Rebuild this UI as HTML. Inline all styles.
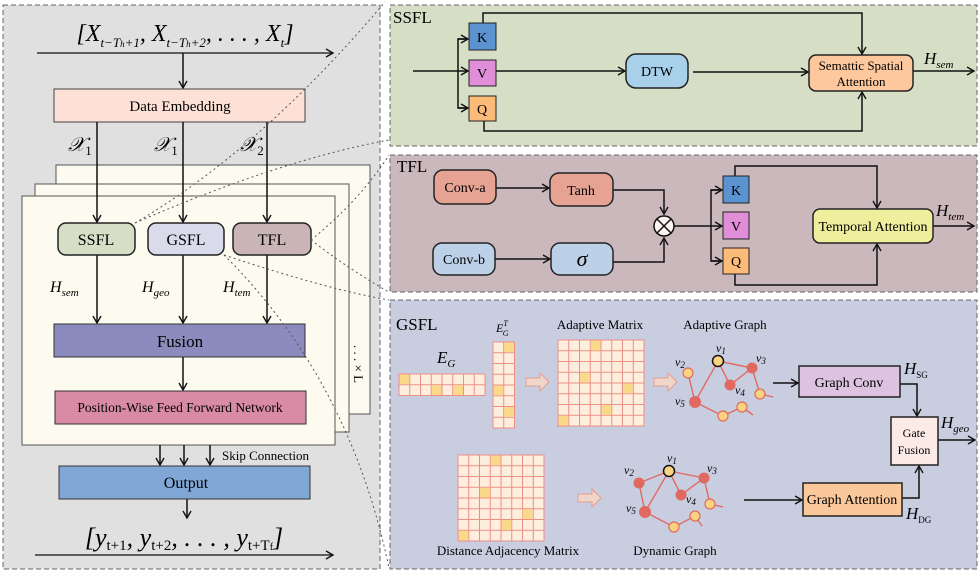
<!DOCTYPE html>
<html><head><meta charset="utf-8"><style>
html,body{margin:0;padding:0;background:#fff}
svg{display:block;font-family:"Liberation Serif",serif}
</style></head><body>
<svg width="979" height="571" viewBox="0 0 979 571" xmlns="http://www.w3.org/2000/svg">
<defs>
<marker id="a" markerWidth="10" markerHeight="10" refX="8" refY="5" orient="auto" markerUnits="userSpaceOnUse"><path d="M1,1 L8,5 L1,9" fill="none" stroke="#111" stroke-width="1.4"/></marker>
<pattern id="p1" x="399" y="374" width="10.75" height="10.75" patternUnits="userSpaceOnUse"><rect width="10.75" height="10.75" fill="#fdeedd" stroke="#ec9088" stroke-width="1"/></pattern>
<pattern id="p2" x="493" y="342" width="10.75" height="10.75" patternUnits="userSpaceOnUse"><rect width="10.75" height="10.75" fill="#fdeedd" stroke="#ec9088" stroke-width="1"/></pattern>
<pattern id="p3" x="558" y="340" width="10.75" height="10.75" patternUnits="userSpaceOnUse"><rect width="10.75" height="10.75" fill="#fdeedd" stroke="#ec9088" stroke-width="1"/></pattern>
<pattern id="p4" x="458" y="455" width="10.75" height="10.75" patternUnits="userSpaceOnUse"><rect width="10.75" height="10.75" fill="#fdeedd" stroke="#ec9088" stroke-width="1"/></pattern>
</defs>
<!-- LEFT -->
<rect x="3" y="5" width="377" height="564" fill="#e0e0e0" stroke="#666" stroke-dasharray="5,3"/>
<text x="185" y="41" font-size="24" font-style="italic" text-anchor="middle">[X<tspan font-size="13" dy="6">t−T<tspan font-size="9">h</tspan>+1</tspan><tspan dy="-6">, X</tspan><tspan font-size="13" dy="6">t−T<tspan font-size="9">h</tspan>+2</tspan><tspan dy="-6">, . . . , X</tspan><tspan font-size="13" dy="6">t</tspan><tspan dy="-6">]</tspan></text>
<line x1="37" y1="53" x2="333" y2="53" stroke="#111" stroke-width="1.2" marker-end="url(#a)"/>
<line x1="183" y1="53" x2="183" y2="88" stroke="#111" stroke-width="1.5" marker-end="url(#a)"/>
<rect x="54" y="89" width="251" height="33" fill="#fde0d6" stroke="#444"/>
<text x="180" y="111" font-size="15" text-anchor="middle">Data Embedding</text>
<g font-size="20" font-style="italic"><text x="68" y="151">𝒳<tspan font-size="13" font-style="normal" dy="4">1</tspan></text><text x="154" y="151">𝒳<tspan font-size="13" font-style="normal" dy="4">1</tspan></text><text x="240" y="151">𝒳<tspan font-size="13" font-style="normal" dy="4">2</tspan></text></g>
<rect x="56" y="165" width="314" height="249" fill="#fdfaf0" stroke="#555"/>
<rect x="35" y="184" width="314" height="248" fill="#fdfaf0" stroke="#555"/>
<rect x="22" y="196" width="313" height="249" fill="#fdfaf0" stroke="#555"/>
<g stroke="#111" stroke-width="1.5" marker-end="url(#a)"><line x1="97" y1="122" x2="97" y2="222"/><line x1="183" y1="122" x2="183" y2="222"/><line x1="267" y1="122" x2="267" y2="222"/>
<line x1="97" y1="255" x2="97" y2="323"/><line x1="183" y1="255" x2="183" y2="323"/><line x1="267" y1="255" x2="267" y2="323"/>
<line x1="183" y1="357" x2="183" y2="390"/><line x1="160" y1="445" x2="160" y2="465"/><line x1="184" y1="445" x2="184" y2="465"/><line x1="210" y1="445" x2="210" y2="465"/><line x1="187" y1="499" x2="187" y2="518"/></g>
<rect x="58" y="223" width="77" height="32" rx="8" fill="#d6dfc6" stroke="#222" stroke-width="1.5"/>
<rect x="148" y="223" width="76" height="32" rx="8" fill="#dadbea" stroke="#222" stroke-width="1.5"/>
<rect x="233" y="223" width="78" height="32" rx="8" fill="#c9b4b6" stroke="#222" stroke-width="1.5"/>
<g font-size="16" text-anchor="middle"><text x="96" y="245">SSFL</text><text x="186" y="245">GSFL</text><text x="272" y="245">TFL</text></g>
<g font-size="16" font-style="italic"><text x="50" y="292">H<tspan font-size="11" dy="4">sem</tspan></text><text x="142" y="292">H<tspan font-size="11" dy="4">geo</tspan></text><text x="223" y="292">H<tspan font-size="11" dy="4">tem</tspan></text></g>
<rect x="54" y="324" width="251" height="33" fill="#8b8bbd" stroke="#333"/>
<text x="180" y="347" font-size="17" text-anchor="middle">Fusion</text>
<rect x="55" y="391" width="251" height="33" fill="#d98aa4" stroke="#333"/>
<text x="180" y="412" font-size="13.5" text-anchor="middle">Position-Wise Feed Forward Network</text>
<text x="222" y="460" font-size="13">Skip Connection</text>
<rect x="59" y="466" width="251" height="33" fill="#80a6d6" stroke="#333"/>
<text x="186" y="488" font-size="16" text-anchor="middle">Output</text>
<text x="184" y="546" font-size="26" font-style="italic" text-anchor="middle">[y<tspan font-size="15" font-style="normal" dy="4">t+1</tspan><tspan dy="-4">, y</tspan><tspan font-size="15" font-style="normal" dy="4">t+2</tspan><tspan dy="-4">, . . . , y</tspan><tspan font-size="15" font-style="normal" dy="4">t+T<tspan font-size="10">f</tspan></tspan><tspan dy="-4">]</tspan></text>
<line x1="35" y1="555" x2="333" y2="555" stroke="#111" stroke-width="1.2" marker-end="url(#a)"/>
<text x="0" y="0" font-size="13" transform="translate(354,345) rotate(90)">. . . × L</text>
<g stroke="#555" stroke-dasharray="2,3" fill="none" stroke-width="1">
<path d="M135,223 Q260,150 385,2"/><path d="M135,223 Q280,160 389,140"/>
<path d="M311,240 Q360,200 389,155"/><path d="M311,240 Q350,270 389,292"/>
<path d="M224,255 Q330,290 389,300"/><path d="M224,255 Q350,380 389,568"/>
</g>
<!-- SSFL -->
<rect x="390" y="5" width="587" height="141" fill="#d6dec5" stroke="#666" stroke-dasharray="5,3"/>
<text x="393" y="23" font-size="17">SSFL</text>
<g stroke="#111" stroke-width="1.5" fill="none">
<line x1="413" y1="71" x2="468" y2="71" marker-end="url(#a)"/>
<polyline points="468,39 458,39 458,108 468,108"/>
<line x1="458" y1="108" x2="468" y2="108" marker-end="url(#a)"/><line x1="458" y1="39" x2="468" y2="39" marker-end="url(#a)"/>
<line x1="496" y1="71" x2="625" y2="71" marker-end="url(#a)"/>
<line x1="693" y1="72" x2="808" y2="72" marker-end="url(#a)"/>
<polyline points="483,23 483,13 862,13 862,54" marker-end="url(#a)"/>
<polyline points="484,121 484,131 862,131 862,92" marker-end="url(#a)"/>
<line x1="913" y1="71" x2="974" y2="71" marker-end="url(#a)"/>
</g>
<rect x="469" y="23" width="27" height="27" fill="#5b93d0" stroke="#222"/>
<rect x="469" y="60" width="27" height="26" fill="#e08ed8" stroke="#222"/>
<rect x="469" y="96" width="27" height="25" fill="#fdbb7a" stroke="#222"/>
<g font-size="14" text-anchor="middle"><text x="482" y="42">K</text><text x="482" y="78">V</text><text x="482" y="114">Q</text></g>
<rect x="626" y="54" width="62" height="34" rx="10" fill="#a8d0ea" stroke="#222" stroke-width="1.5"/>
<text x="657" y="76" font-size="14" text-anchor="middle">DTW</text>
<rect x="809" y="55" width="104" height="36" rx="7" fill="#fdc89d" stroke="#222" stroke-width="1.5"/>
<text x="861" y="70" font-size="13" text-anchor="middle">Semattic Spatial</text><text x="861" y="86" font-size="13" text-anchor="middle">Attention</text>
<text x="924" y="64" font-size="17" font-style="italic">H<tspan font-size="11" dy="4">sem</tspan></text>
<!-- TFL -->
<rect x="390" y="155" width="587" height="137" fill="#cab8bc" stroke="#666" stroke-dasharray="5,3"/>
<text x="397" y="172" font-size="17">TFL</text>
<g stroke="#111" stroke-width="1.5" fill="none">
<line x1="496" y1="188" x2="549" y2="188" marker-end="url(#a)"/>
<line x1="495" y1="259" x2="550" y2="259" marker-end="url(#a)"/>
<polyline points="613,190 664,190 664,214" marker-end="url(#a)"/>
<polyline points="613,262 664,262 664,238" marker-end="url(#a)"/>
<line x1="674" y1="226" x2="722" y2="226" marker-end="url(#a)"/>
<polyline points="722,190 711,190 711,261 722,261"/>
<line x1="711" y1="190" x2="722" y2="190" marker-end="url(#a)"/><line x1="711" y1="261" x2="722" y2="261" marker-end="url(#a)"/>
<polyline points="735,176 735,166 877,166 877,208" marker-end="url(#a)"/>
<polyline points="735,274 735,285 877,285 877,244" marker-end="url(#a)"/>
<line x1="933" y1="226" x2="974" y2="226" marker-end="url(#a)"/>
</g>
<rect x="434" y="170" width="62" height="34" rx="9" fill="#e6a393" stroke="#222" stroke-width="1.5"/>
<rect x="550" y="173" width="63" height="33" rx="9" fill="#e6a393" stroke="#222" stroke-width="1.5"/>
<rect x="433" y="243" width="62" height="32" rx="9" fill="#bcd0e8" stroke="#222" stroke-width="1.5"/>
<rect x="551" y="243" width="62" height="32" rx="9" fill="#bcd0e8" stroke="#222" stroke-width="1.5"/>
<g font-size="14" text-anchor="middle"><text x="465" y="192">Conv-a</text><text x="581" y="195">Tanh</text><text x="464" y="264">Conv-b</text></g>
<text x="582" y="266" font-size="22" font-style="italic" text-anchor="middle">σ</text>
<circle cx="664" cy="226" r="10" fill="#fdf5f0" stroke="#111" stroke-width="1.5"/>
<path d="M657,219 L671,233 M671,219 L657,233" stroke="#111" stroke-width="1.5"/>
<rect x="723" y="176" width="26" height="27" fill="#5b93d0" stroke="#222"/>
<rect x="723" y="212" width="26" height="27" fill="#e08ed8" stroke="#222"/>
<rect x="723" y="248" width="26" height="26" fill="#fdbb7a" stroke="#222"/>
<g font-size="14" text-anchor="middle"><text x="736" y="195">K</text><text x="736" y="231">V</text><text x="736" y="266">Q</text></g>
<rect x="813" y="209" width="120" height="34" rx="7" fill="#eeee9c" stroke="#222" stroke-width="1.5"/>
<text x="873" y="231" font-size="14" text-anchor="middle">Temporal  Attention</text>
<text x="936" y="216" font-size="17" font-style="italic">H<tspan font-size="11" dy="4">tem</tspan></text>
<!-- GSFL -->
<rect x="390" y="300" width="587" height="269" fill="#c9cde0" stroke="#666" stroke-dasharray="5,3"/>
<text x="396" y="330" font-size="17">GSFL</text>
<text x="437" y="363" font-size="17" font-style="italic">E<tspan font-size="11" dy="4">G</tspan></text>
<text x="496" y="332" font-size="12" font-style="italic">E<tspan font-size="8" dy="-6">T</tspan><tspan font-size="8" dx="-5" dy="10">G</tspan></text>
<rect x="399" y="374" width="86" height="21.5" fill="url(#p1)" stroke="#ec9088"/>
<rect x="493" y="342" width="21.5" height="86" fill="url(#p2)" stroke="#ec9088"/>
<rect x="558" y="340" width="86" height="86" fill="url(#p3)" stroke="#ec9088"/>
<rect x="458" y="455" width="86" height="86" fill="url(#p4)" stroke="#ec9088"/>
<g fill="#fbd98a">
<rect x="399.5" y="374.5" width="9.75" height="9.75"/><rect x="453.25" y="385.25" width="9.75" height="9.75"/><rect x="431.75" y="385.25" width="9.75" height="9.75"/>
<rect x="504.25" y="342.5" width="9.75" height="9.75"/><rect x="493.5" y="385.5" width="9.75" height="9.75"/><rect x="504.25" y="407" width="9.75" height="9.75"/>
<rect x="590.75" y="340.5" width="9.75" height="9.75"/><rect x="580" y="372.75" width="9.75" height="9.75"/><rect x="623" y="383.5" width="9.75" height="9.75"/><rect x="601.5" y="405" width="9.75" height="9.75"/><rect x="558.5" y="415.75" width="9.75" height="9.75"/>
<rect x="490.75" y="455.5" width="9.75" height="9.75"/><rect x="480" y="487.75" width="9.75" height="9.75"/><rect x="522.5" y="509.25" width="9.75" height="9.75"/><rect x="501.5" y="520" width="9.75" height="9.75"/><rect x="458.5" y="530.75" width="9.75" height="9.75"/>
</g>
<g font-size="13" text-anchor="middle"><text x="600" y="329">Adaptive Matrix</text><text x="725" y="329">Adaptive Graph</text><text x="508" y="555">Distance Adjacency Matrix</text><text x="675" y="555">Dynamic  Graph</text></g>
<g fill="#f0d6c8" stroke="#e0a090"><path d="M526,378 h14 v-5 l9,9 l-9,9 v-5 h-14z"/><path d="M654,378 h14 v-5 l9,9 l-9,9 v-5 h-14z"/><path d="M578,494 h14 v-5 l9,9 l-9,9 v-5 h-14z"/></g>
<g stroke="#e06a62" stroke-width="1.4" fill="none">
<polyline points="688,373 695,402 718,361 752,368 730,385 718,361"/><polyline points="695,402 723,416 742,407 753,415"/><polyline points="752,368 760,394 773,397"/><line x1="718" y1="361" x2="752" y2="368"/>
<polyline points="639,483 669,471 645,512 674,527 695,516 702,526"/><polyline points="669,471 704,478 681,495 669,471"/><polyline points="704,478 710,504 723,507"/><line x1="639" y1="483" x2="645" y2="512"/>
</g>
<g fill="#fbd380" stroke="#e06a62" stroke-width="1.2"><circle cx="688" cy="373" r="5"/><circle cx="760" cy="394" r="5"/><circle cx="723" cy="416" r="5"/><circle cx="742" cy="407" r="5"/><circle cx="710" cy="504" r="5"/><circle cx="674" cy="527" r="5"/><circle cx="695" cy="516" r="5"/></g>
<g fill="#e06a62"><circle cx="695" cy="402" r="6"/><circle cx="752" cy="368" r="5.5"/><circle cx="730" cy="385" r="5.5"/><circle cx="639" cy="483" r="5.5"/><circle cx="704" cy="478" r="5.5"/><circle cx="681" cy="495" r="5.5"/><circle cx="645" cy="512" r="6"/></g>
<g fill="#fbd380" stroke="#111" stroke-width="1.5"><circle cx="718" cy="361" r="5.5"/><circle cx="669" cy="471" r="5.5"/></g>
<g font-size="12" font-style="italic"><text x="716" y="352">ν<tspan font-size="9" dy="2">1</tspan></text><text x="675" y="366">ν<tspan font-size="9" dy="2">2</tspan></text><text x="756" y="362">ν<tspan font-size="9" dy="2">3</tspan></text><text x="735" y="394">ν<tspan font-size="9" dy="2">4</tspan></text><text x="675" y="405">ν<tspan font-size="9" dy="2">5</tspan></text>
<text x="667" y="462">ν<tspan font-size="9" dy="2">1</tspan></text><text x="624" y="474">ν<tspan font-size="9" dy="2">2</tspan></text><text x="707" y="472">ν<tspan font-size="9" dy="2">3</tspan></text><text x="686" y="503">ν<tspan font-size="9" dy="2">4</tspan></text><text x="626" y="512">ν<tspan font-size="9" dy="2">5</tspan></text></g>
<g stroke="#111" stroke-width="1.5" fill="none">
<line x1="773" y1="383" x2="798" y2="383" marker-end="url(#a)"/>
<line x1="744" y1="500" x2="802" y2="500" marker-end="url(#a)"/>
<polyline points="900,384 917,384 917,416" marker-end="url(#a)"/>
<polyline points="902,498 919,498 919,466" marker-end="url(#a)"/>
<line x1="938" y1="440" x2="975" y2="440" marker-end="url(#a)"/>
</g>
<rect x="799" y="366" width="101" height="31" fill="#ddc3e0" stroke="#222" stroke-width="1.5"/>
<text x="849" y="387" font-size="14" text-anchor="middle">Graph Conv</text>
<rect x="803" y="483" width="99" height="33" fill="#fac89a" stroke="#222" stroke-width="1.5"/>
<text x="852" y="504" font-size="14" text-anchor="middle">Graph Attention</text>
<rect x="891" y="417" width="47" height="48" fill="#fceae6" stroke="#222" stroke-width="1.5"/>
<text x="914" y="437" font-size="12" text-anchor="middle">Gate</text><text x="914" y="454" font-size="12" text-anchor="middle">Fusion</text>
<g font-size="17" font-style="italic"><text x="904" y="374">H<tspan font-size="9" font-style="normal" dy="4">SG</tspan></text><text x="941" y="428">H<tspan font-size="11" dy="4">geo</tspan></text><text x="906" y="519">H<tspan font-size="9" font-style="normal" dy="4">DG</tspan></text></g>
</svg>
</body></html>
